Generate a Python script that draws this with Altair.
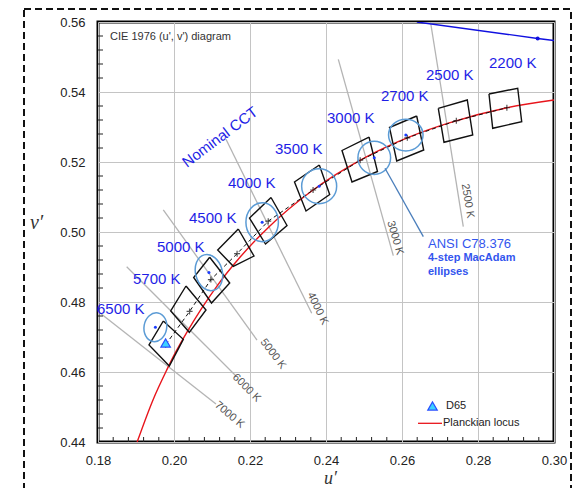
import altair as alt
import pandas as pd

# ---------------- data ----------------
# Planckian locus (u', v')
pl_u = [0.1903, 0.1945, 0.1981, 0.2004, 0.2033, 0.2114, 0.2173, 0.2251, 0.2357, 0.2505, 0.2625, 0.2722, 0.2876, 0.3000]
pl_v = [0.4400, 0.4521, 0.4606, 0.4656, 0.4712, 0.4847, 0.4927, 0.5016, 0.5113, 0.5214, 0.5274, 0.5311, 0.5355, 0.5377]

# ANSI quadrangles: nominal CCT, corner u', corner v'
quad_cct = ["6500 K", "5700 K", "5000 K", "4500 K", "4000 K", "3500 K", "3000 K", "2700 K", "2500 K", "2200 K"]
quad_u = [
    [0.19719, 0.20245, 0.19877, 0.19342],
    [0.20316, 0.20842, 0.20403, 0.19913],
    [0.20939, 0.21466, 0.20987, 0.20518],
    [0.21692, 0.22105, 0.21561, 0.21150],
    [0.22553, 0.22974, 0.22408, 0.21987],
    [0.23824, 0.24097, 0.23474, 0.23171],
    [0.25132, 0.25355, 0.24684, 0.24421],
    [0.26387, 0.26571, 0.25861, 0.25671],
    [0.26955, 0.27718, 0.27861, 0.27105],
    [0.28289, 0.29045, 0.29150, 0.28387],
]
quad_v = [
    [0.47457, 0.46934, 0.46171, 0.46771],
    [0.48457, 0.47771, 0.47134, 0.47743],
    [0.49277, 0.48543, 0.47971, 0.48700],
    [0.50086, 0.49314, 0.49020, 0.49486],
    [0.50986, 0.50186, 0.49657, 0.50400],
    [0.51914, 0.51071, 0.50600, 0.51429],
    [0.52714, 0.51729, 0.51429, 0.52329],
    [0.53314, 0.52343, 0.52029, 0.52986],
    [0.53534, 0.53771, 0.52771, 0.52563],
    [0.53943, 0.54106, 0.53151, 0.52963],
]
# quadrangle centres
cen_u = [0.1978, 0.2041, 0.2097, 0.2166, 0.2248, 0.2366, 0.2490, 0.2614, 0.2743, 0.2876]
cen_v = [0.4678, 0.4773, 0.4864, 0.4938, 0.5031, 0.5120, 0.5205, 0.5269, 0.5318, 0.5355]

# CCT label anchors (left edge, middle)
lab_text = ["6500 K", "5700 K", "5000 K", "4500 K", "4000 K", "3500 K", "3000 K", "2700 K", "2500 K", "2200 K"]
lab_u = [0.17974, 0.18921, 0.19553, 0.20395, 0.21421, 0.22658, 0.24026, 0.25447, 0.26632, 0.28289]
lab_v = [0.47786, 0.48657, 0.49571, 0.50414, 0.51414, 0.52371, 0.53257, 0.53886, 0.54500, 0.54829]

# 4-step MacAdam ellipses: centre, horizontal width (u'), vertical height (v'), tilt (deg)
ell_cct = ["6500", "5000", "4100", "3500", "3000", "2700"]
ell_u = [0.1951, 0.2092, 0.2232, 0.2382, 0.2527, 0.2610]
ell_v = [0.4728, 0.4884, 0.5028, 0.5131, 0.5212, 0.5277]
ell_w = [0.00597, 0.00703, 0.00855, 0.00921, 0.00860, 0.00908]
ell_h = [0.00829, 0.01049, 0.01114, 0.01000, 0.00951, 0.00906]
ell_tilt = [10, 345, 0, 0, 0, 0]

# nominal CCT isotherm lines
iso_cct = ["2500 K", "3000 K", "4000 K", "5000 K", "6000 K", "7000 K"]
iso_u1 = [0.26750, 0.24324, 0.21368, 0.19718, 0.18755, 0.18053]
iso_v1 = [0.56000, 0.54934, 0.52649, 0.50629, 0.49009, 0.47686]
iso_u2 = [0.27613, 0.25771, 0.23624, 0.22184, 0.21632, 0.21105]
iso_v2 = [0.50151, 0.49323, 0.47677, 0.46914, 0.45886, 0.45086]
iso_lab_u = [0.27724, 0.25816, 0.23776, 0.22605, 0.21908, 0.21461]
iso_lab_v = [0.50886, 0.49829, 0.47814, 0.46514, 0.45543, 0.44771]
iso_lab_angle = [81, 74, 64, 53, 45, 40]

# blue line at top right
bl_u = [0.2639, 0.2957, 0.3000]
bl_v = [0.5600, 0.5553, 0.5547]

d65_u, d65_v = 0.1978, 0.4683

# ---------------- scales / axes ----------------
W, H = 456, 420
U_DOM = [0.18, 0.30]
V_DOM = [0.44, 0.56]
xs = alt.Scale(domain=U_DOM, nice=False, zero=False)
ys = alt.Scale(domain=V_DOM, nice=False, zero=False)
major_u = [0.18, 0.20, 0.22, 0.24, 0.26, 0.28, 0.30]
major_v = [0.44, 0.46, 0.48, 0.50, 0.52, 0.54, 0.56]

xaxis = alt.Axis(values=major_u, format=".2f", grid=True, ticks=False, domain=False, labelFlush=False,
                 labelPadding=12, title="u\u2032", titleFont="Liberation Serif",
                 titleFontStyle="italic", titleFontWeight="normal", titleFontSize=18,
                 titleColor="#333", titleX=232, titleY=41, titleBaseline="alphabetic")
yaxis = alt.Axis(values=major_v, format=".2f", grid=True, ticks=False, domain=False, labelFlush=False,
                 labelPadding=13, title="v\u2032", titleFont="Liberation Serif",
                 titleFontStyle="italic", titleFontWeight="normal", titleFontSize=20,
                 titleColor="#333", titleAngle=0, titleX=-62, titleY=200,
                 titleAlign="center", titleBaseline="middle")


def X(f):
    return alt.X(f, type="quantitative", scale=xs, axis=xaxis)


def Y(f):
    return alt.Y(f, type="quantitative", scale=ys, axis=yaxis)


# ---------------- tables ----------------
planck = pd.DataFrame({"u": pl_u, "v": pl_v})
rows = []
for c, us, vs in zip(quad_cct, quad_u, quad_v):
    for i in range(5):
        rows.append({"cct": c, "o": i, "u": us[i % 4], "v": vs[i % 4]})
quads = pd.DataFrame(rows)
cen = pd.DataFrame({"u": cen_u, "v": cen_v, "o": list(range(len(cen_u)))})
labs = pd.DataFrame({"t": lab_text, "u": lab_u, "v": lab_v})

px_u = W / (U_DOM[1] - U_DOM[0])
px_v = H / (V_DOM[1] - V_DOM[0])
paths, sizes = [], []
for w, h in zip(ell_w, ell_h):
    wp, hp = w * px_u, h * px_v
    m = max(wp, hp)
    a, b = wp / m, hp / m
    paths.append(f"M{-a:.3f},0A{a:.3f},{b:.3f} 0 1,0 {a:.3f},0A{a:.3f},{b:.3f} 0 1,0 {-a:.3f},0Z")
    sizes.append(m * m)
ells = pd.DataFrame({"cct": ell_cct, "u": ell_u, "v": ell_v, "sz": sizes, "tilt": ell_tilt})

iso = pd.DataFrame({"cct": iso_cct, "u1": iso_u1, "v1": iso_v1, "u2": iso_u2, "v2": iso_v2})
isolab = pd.DataFrame({"t": iso_cct, "u": iso_lab_u, "v": iso_lab_v, "a": iso_lab_angle})
blue = pd.DataFrame({"u": bl_u, "v": bl_v})

minor_u = [round(0.18 + 0.004 * i, 3) for i in range(31) if i % 5 != 0]
minor_v = [round(0.44 + 0.004 * i, 3) for i in range(31) if i % 5 != 0]

# ---------------- layers ----------------
frame = alt.Chart(pd.DataFrame({"k": [0]})).mark_rect(
    fillOpacity=0, stroke="#111", strokeWidth=2, strokeDash=[7, 4]
).encode(x=alt.value(-74), x2=alt.value(473), y=alt.value(-13), y2=alt.value(500))

ticks_y = alt.Chart(pd.DataFrame({"t": minor_v})).mark_rule(color="#222", strokeWidth=1).encode(
    y=Y("t"), x=alt.value(0), x2=alt.value(5))
ticks_x = alt.Chart(pd.DataFrame({"t": minor_u})).mark_rule(color="#222", strokeWidth=1).encode(
    x=X("t"), y=alt.value(H), y2=alt.value(H - 5))

iso_lines = alt.Chart(iso).mark_rule(color="#b4b4b4", strokeWidth=1.3).encode(
    x=X("u1"), y=Y("v1"), x2="u2", y2="v2")
iso_text = alt.Chart(isolab).mark_text(font="Liberation Sans", fontSize=11, color="#555",
                                       align="center", baseline="middle").encode(
    x=X("u"), y=Y("v"), text="t", angle=alt.Angle("a:Q", scale=None))

planck_line = alt.Chart(planck).mark_line(color="#e8141b", strokeWidth=1.4, interpolate="monotone").encode(
    x=X("u"), y=Y("v"))

quad_lines = alt.Chart(quads).mark_line(color="#111", strokeWidth=1.4).encode(
    x=X("u"), y=Y("v"), detail="cct", order="o")

cen_line = alt.Chart(cen).mark_line(color="#111", strokeWidth=1, strokeDash=[4, 3]).encode(
    x=X("u"), y=Y("v"), order="o")
cen_pts = alt.Chart(cen).mark_point(shape="M-1,0L1,0M0,-1L0,1", size=36, color="#111",
                                    strokeWidth=1.2).encode(x=X("u"), y=Y("v"))

ell_marks = alt.Chart(ells).mark_point(filled=False, stroke="#5b9bd5", strokeWidth=1.5, opacity=1).encode(
    x=X("u"), y=Y("v"),
    shape=alt.Shape("cct:N", scale=alt.Scale(domain=ell_cct, range=paths), legend=None),
    size=alt.Size("sz:Q", scale=None),
    angle=alt.Angle("tilt:Q", scale=None))
ell_dots = alt.Chart(ells).mark_circle(color="#1a3cff", size=9, opacity=1).encode(x=X("u"), y=Y("v"))

pointer = alt.Chart(pd.DataFrame({"u": [0.25553], "v": [0.51820], "u2": [0.26561], "v2": [0.49866]})).mark_rule(
    color="#4a7ebb", strokeWidth=1.3).encode(x=X("u"), y=Y("v"), x2="u2", y2="v2")

blue_line = alt.Chart(blue).mark_line(color="#1010e0", strokeWidth=1.4, clip=True).encode(x=X("u"), y=Y("v"))
blue_dot = alt.Chart(blue.iloc[[1]]).mark_circle(color="#1010e0", size=16, opacity=1).encode(x=X("u"), y=Y("v"))

cct_text = alt.Chart(labs).mark_text(font="Liberation Sans", fontSize=15, color="#1e1ee6",
                                     align="left", baseline="middle").encode(
    x=X("u"), y=Y("v"), text="t")

nominal = alt.Chart(pd.DataFrame({"t": ["Nominal CCT"], "u": [0.2121], "v": [0.52714]})).mark_text(
    font="Liberation Sans", fontSize=15, color="#1e1ee6", angle=323, align="center", baseline="middle").encode(
    x=X("u"), y=Y("v"), text="t")

ansi1 = alt.Chart(pd.DataFrame({"t": ["ANSI C78.376"], "u": [0.26684], "v": [0.49657]})).mark_text(
    font="Liberation Sans", fontSize=13, color="#3355ee", align="left", baseline="middle").encode(
    x=X("u"), y=Y("v"), text="t")
ansi2 = alt.Chart(pd.DataFrame({"t": ["4-step MacAdam", "ellipses"], "u": [0.26684, 0.26684],
                                "v": [0.49257, 0.48857]})).mark_text(
    font="Liberation Sans", fontSize=11, fontWeight="bold", color="#3355ee", align="left",
    baseline="middle").encode(x=X("u"), y=Y("v"), text="t")

title_txt = alt.Chart(pd.DataFrame({"t": ["CIE 1976 (u', v') diagram"], "u": [0.18316], "v": [0.55571]})).mark_text(
    font="Liberation Sans", fontSize=11, color="#333", align="left", baseline="middle").encode(
    x=X("u"), y=Y("v"), text="t")

d65 = alt.Chart(pd.DataFrame({"u": [d65_u, 0.26803], "v": [d65_v, 0.45029]})).mark_point(
    shape="triangle-up", filled=True, fill="#3cd2ff", stroke="#2a50ff", strokeWidth=1.2, size=90, opacity=1).encode(
    x=X("u"), y=Y("v"))
leg_line = alt.Chart(pd.DataFrame({"u": [0.26421], "u2": [0.27053], "v": [0.44534]})).mark_rule(
    color="#e8141b", strokeWidth=1.3).encode(x=X("u"), x2="u2", y=Y("v"))
leg_text = alt.Chart(pd.DataFrame({"t": ["D65", "Planckian locus"], "u": [0.27158, 0.27079],
                                   "v": [0.45029, 0.44534]})).mark_text(
    font="Liberation Sans", fontSize=11, color="#222", align="left", baseline="middle").encode(
    x=X("u"), y=Y("v"), text="t")

chart = alt.layer(
    frame, iso_lines, iso_text, ticks_x, ticks_y, planck_line, cen_line, quad_lines, cen_pts,
    ell_marks, ell_dots, pointer, blue_line, blue_dot, cct_text, nominal, ansi1, ansi2,
    title_txt, d65, leg_line, leg_text
).properties(
    width=W, height=H,
    padding={"left": 90, "top": 14, "right": 19, "bottom": 46},
    autosize=alt.AutoSizeParams(type="none"),
).configure_view(stroke="#000", strokeWidth=3).configure_axis(
    gridColor="#c4c4c4", gridWidth=1, labelFont="Liberation Sans", labelFontSize=13, labelColor="#222"
)

chart.save("out.html", embed_options={"renderer": "svg", "actions": False})
